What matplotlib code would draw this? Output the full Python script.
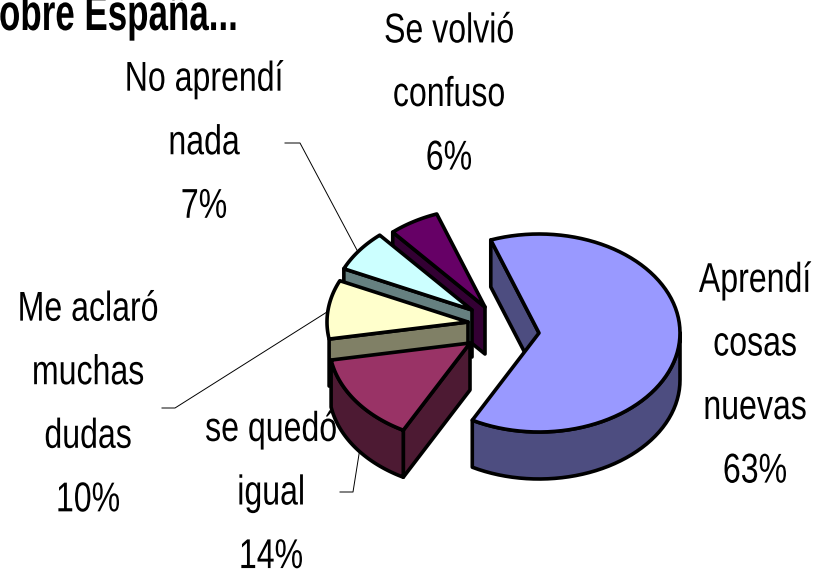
import numpy as np
import matplotlib
matplotlib.use("Agg")
import matplotlib.pyplot as plt
from matplotlib.patches import Polygon
from matplotlib.text import Text
from matplotlib.transforms import Affine2D, Bbox
import matplotlib.patheffects as pe

labels = ["Aprendí\ncosas\nnuevas", "se quedó\nigual", "Me aclaró\nmuchas\ndudas", "No aprendí\nnada", "Se volvió\nconfuso"]
values = [63.4, 14.4, 9.6, 6.8, 5.8]
title = "Sobre España..."

top_colors = ["#9999FF", "#993366", "#FFFFCC", "#CCFFFF", "#660066"]
side_colors = ["#4D4D80", "#4D1A33", "#808066", "#668080", "#330033"]
# explode offsets of each slice (pixels) from the pie centre
CX, CY = 503, 328
explode_x = [36, -33, -35, -31, -18]
explode_y = [5, 15, -6, -18, -21]
draw_order = [4, 3, 2, 1, 0]
label_pos = [(755, 376), (271, 493), (88, 405), (204, 143), (449, 95)]
leaders = [None,
           [(340, 492), (353, 492), (360, 448)],
           [(162, 408), (175, 408), (327, 312)],
           [(285, 143), (300, 143), (358, 252)],
           None]
RX, RY, DEPTH = 141, 99, 47
START = 110
LW = 2.6
FONT = "Liberation Sans"

fig = plt.figure(figsize=(8.19, 5.74), dpi=100)
ax = fig.add_axes([0, 0, 1, 1])
ax.set_xlim(0, 819)
ax.set_ylim(574, 0)
ax.axis("off")


class Squeeze(pe.AbstractPathEffect):
    """Draw glyph outlines horizontally condensed about a display x."""
    def __init__(self, cx, s):
        super().__init__()
        self.cx, self.s = cx, s

    def draw_path(self, renderer, gc, tpath, affine, rgbFace=None):
        a = affine + Affine2D().translate(-self.cx, 0).scale(self.s, 1).translate(self.cx, 0)
        renderer.draw_path(gc, tpath, a, rgbFace)


class NarrowText(Text):
    """Real text whose reported extent follows the condensed drawing."""
    squeeze = 1.0

    def get_window_extent(self, renderer=None, dpi=None):
        b = super().get_window_extent(renderer, dpi)
        cx = self.axes.transData.transform(self.get_position())[0]
        s = self.squeeze
        return Bbox([[cx + (b.x0 - cx) * s, b.y0], [cx + (b.x1 - cx) * s, b.y1]])


def narrow_text(x, y, s, squeeze, **kw):
    t = NarrowText(x, y, s, **kw)
    ax.add_artist(t)
    t.set_clip_on(False)
    t.squeeze = squeeze
    cx = ax.transData.transform((x, y))[0]
    t.set_path_effects([Squeeze(cx, squeeze)])
    return t


angles = START - np.concatenate([[0], np.cumsum(values)]) * 3.6


def poly(pts, color, z):
    ax.add_patch(Polygon(pts, closed=True, facecolor=color, edgecolor="black",
                         linewidth=LW, joinstyle="round", zorder=z))


for z, i in enumerate(draw_order):
    ax0, ay0 = CX + explode_x[i], CY + explode_y[i]
    th = np.radians(np.linspace(angles[i], angles[i + 1], 80))
    rim = np.column_stack([ax0 + RX * np.cos(th), ay0 - RY * np.sin(th)])
    apex = np.array([ax0, ay0])
    down = np.array([0, DEPTH])
    base = z * 10 + 2
    mid = rim[len(rim) // 2]
    for corner in (rim[0], rim[-1]):
        # a cut face shows only if the slice top lies above its edge
        dx = corner[0] - apex[0]
        line_y = apex[1] + (corner[1] - apex[1]) / dx * (mid[0] - apex[0])
        if mid[1] < line_y:
            poly([apex, corner, corner + down, apex + down], side_colors[i], base)
    low_mask = np.sin(th) <= 0.02
    low = rim[low_mask]
    # a very short stretch of outer wall would only be a black sliver
    if low_mask.any() and np.degrees(np.ptp(th[low_mask])) > 15:
        poly(np.vstack([low, (low + down)[::-1]]), side_colors[i], base + 1)
    poly(np.vstack([apex, rim]), top_colors[i], base + 2)

for i, (lab, v) in enumerate(zip(labels, values)):
    narrow_text(*label_pos[i], f"{lab}\n{v:.0f}%", 0.77, ha="center", va="center", ma="center",
                family=FONT, fontsize=30, linespacing=1.76, color="black", zorder=100)
    if leaders[i]:
        xs, ys = zip(*leaders[i])
        ax.plot(xs, ys, color="black", lw=0.7, zorder=1)

narrow_text(238, 30, title, 0.68, ha="right", va="baseline", family=FONT, fontsize=37,
            fontweight="bold", color="black", zorder=100)

fig.savefig("out.png", dpi=100)
